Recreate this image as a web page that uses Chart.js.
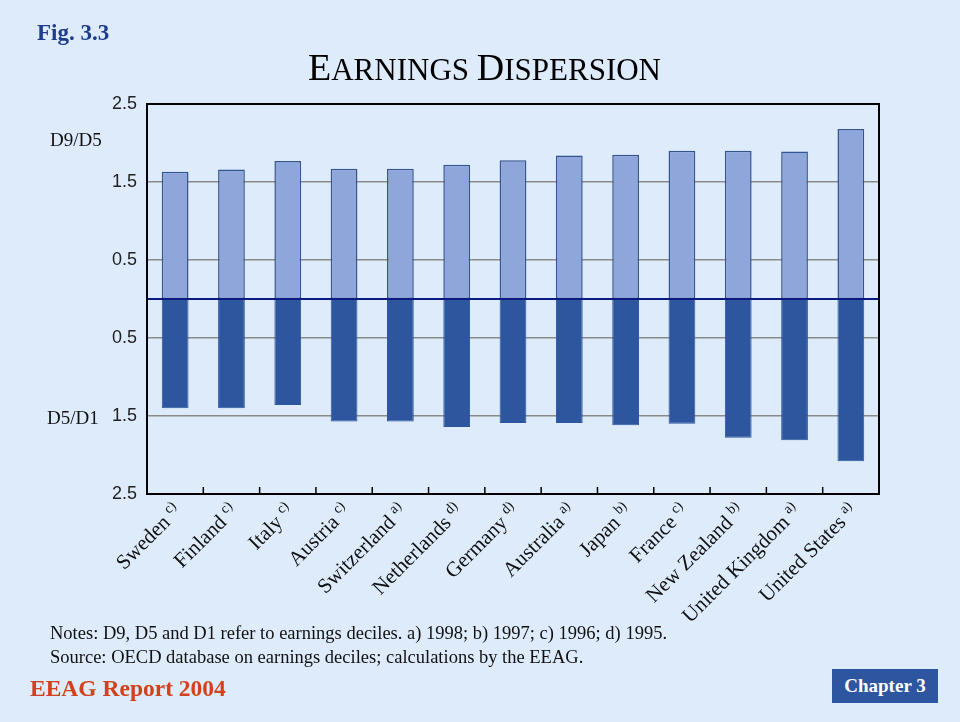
<!DOCTYPE html>
<html>
<head>
<meta charset="utf-8">
<script src="https://cdn.jsdelivr.net/npm/chart.js@4"></script>
<style>
  html, body { margin: 0; padding: 0; }
  body { width: 960px; height: 722px; background: #ddebfb; position: relative; overflow: hidden; font-family: "Liberation Serif", "Times New Roman", serif; }
  #wrap { position: absolute; left: 0; top: 0; width: 960px; height: 722px; }
  .txt { position: absolute; white-space: nowrap; }
  #fig { left: 37px; top: 20px; font-size: 23px; font-weight: bold; color: #1f3b8c; }
  #title { left: 308px; top: 48px; color: #000; line-height: 1; }
  #title .big { font-size: 38px; }
  #title .sm { font-size: 31px; }
  .ylab { font-size: 19px; color: #111; }
  #notes { left: 50px; top: 621px; font-size: 18.5px; line-height: 24px; color: #111; }
  #eeag { left: 30px; top: 675px; font-size: 23.5px; font-weight: bold; color: #d2401c; }
  #chapter { left: 832px; top: 669px; width: 106px; height: 34px; background: #2d55a0; color: #fff; font-size: 19px; font-weight: bold; text-align: center; line-height: 34px; }
</style>
</head>
<body>
<div id="wrap"><canvas id="myChart" width="960" height="722"></canvas></div>
<div class="txt" id="fig">Fig. 3.3</div>
<div class="txt" id="title"><span class="big">E</span><span class="sm">ARNINGS </span><span class="big">D</span><span class="sm">ISPERSION</span></div>
<div class="txt ylab" style="left:50px; top:129px;">D9/D5</div>
<div class="txt ylab" style="left:47px; top:407px;">D5/D1</div>
<div class="txt" id="notes">Notes: D9, D5 and D1 refer to earnings deciles. a) 1998; b) 1997; c) 1996; d) 1995.<br>Source: OECD database on earnings deciles; calculations by the EEAG.</div>
<div class="txt" id="eeag">EEAG Report 2004</div>
<div class="txt" id="chapter">Chapter 3</div>
<script>
const countries = ['Sweden', 'Finland', 'Italy', 'Austria', 'Switzerland', 'Netherlands', 'Germany',
  'Australia', 'Japan', 'France', 'New Zealand', 'United Kingdom', 'United States'];
const notes = ['c)', 'c)', 'c)', 'c)', 'a)', 'd)', 'd)', 'a)', 'b)', 'c)', 'b)', 'a)', 'a)'];
const d9d5 = [1.63, 1.66, 1.77, 1.67, 1.67, 1.72, 1.78, 1.84, 1.85, 1.90, 1.90, 1.89, 2.18];
const d5d1 = [1.40, 1.40, 1.36, 1.57, 1.57, 1.64, 1.59, 1.59, 1.62, 1.60, 1.78, 1.81, 2.08];
const yTicks = [-2.5, -1.5, -0.5, 0.5, 1.5, 2.5];

// frame, zero line, inner x ticks and rotated country labels
const decor = {
  id: 'decor',
  afterDatasetsDraw(chart) {
    const c = chart.ctx, a = chart.chartArea, x = chart.scales.x, y = chart.scales.y;
    c.save();
    // zero line
    c.strokeStyle = '#0a1a80';
    c.lineWidth = 2;
    c.beginPath();
    c.moveTo(a.left, y.getPixelForValue(0));
    c.lineTo(a.right, y.getPixelForValue(0));
    c.stroke();
    // frame
    c.strokeStyle = '#000';
    c.lineWidth = 2;
    c.strokeRect(a.left, a.top, a.right - a.left, a.bottom - a.top);
    // ticks between categories
    c.lineWidth = 1.5;
    for (let i = 1; i < countries.length; i++) {
      const px = (x.getPixelForValue(i - 1) + x.getPixelForValue(i)) / 2;
      c.beginPath();
      c.moveTo(px, a.bottom);
      c.lineTo(px, a.bottom - 7);
      c.stroke();
    }
    // labels
    c.fillStyle = '#111';
    countries.forEach((name, i) => {
      const px = x.getPixelForValue(i);
      c.save();
      c.translate(px + 3, a.bottom + 14);
      c.rotate(-Math.PI / 4);
      c.font = '14px "Liberation Serif"';
      c.textAlign = 'right';
      c.textBaseline = 'alphabetic';
      const nw = c.measureText(notes[i]).width;
      c.fillText(notes[i], 0, -2);
      c.font = '21px "Liberation Serif"';
      c.fillText(name, -nw - 5, 6);
      c.restore();
    });
    c.restore();
  }
};

const ctx = document.getElementById('myChart').getContext('2d');
const myChart = new Chart(ctx, {
  type: 'bar',
  data: {
    labels: countries,
    datasets: [{
      label: 'D9/D5',
      data: d9d5,
      backgroundColor: '#8ea6da',
      borderColor: '#34548f',
      borderWidth: 1.5,
      borderSkipped: false,
      barPercentage: 0.475,
      categoryPercentage: 1
    }, {
      label: 'D5/D1',
      data: d5d1.map(v => -v),
      backgroundColor: '#2d569f',
      borderColor: '#2d569f',
      borderWidth: 1,
      borderSkipped: false,
      barPercentage: 0.475,
      categoryPercentage: 1
    }]
  },
  options: {
    responsive: false,
    animation: false,
    devicePixelRatio: 1,
    layout: { padding: { top: 104, right: 81, left: 0, bottom: 0 } },
    plugins: { legend: { display: false }, tooltip: { enabled: false }, title: { display: false } },
    scales: {
      x: {
        stacked: true,
        grid: { display: false },
        border: { display: false },
        ticks: { display: false },
        afterFit(scale) { scale.height = 228; }
      },
      y: {
        stacked: true,
        min: -2.5,
        max: 2.5,
        afterBuildTicks(scale) { scale.ticks = yTicks.map(v => ({ value: v })); },
        afterFit(scale) { scale.width = 147; },
        border: { display: false },
        grid: {
          drawTicks: false,
          lineWidth: 1.5,
          color: c => Math.abs(c.tick.value) === 2.5 ? 'rgba(0,0,0,0)' : '#8a8a8a'
        },
        ticks: {
          padding: 10,
          color: '#222',
          font: { family: '"Liberation Sans", Arial, sans-serif', size: 18 },
          callback: v => Math.abs(v).toFixed(1)
        }
      }
    }
  },
  plugins: [decor]
});
</script>
</body>
</html>
